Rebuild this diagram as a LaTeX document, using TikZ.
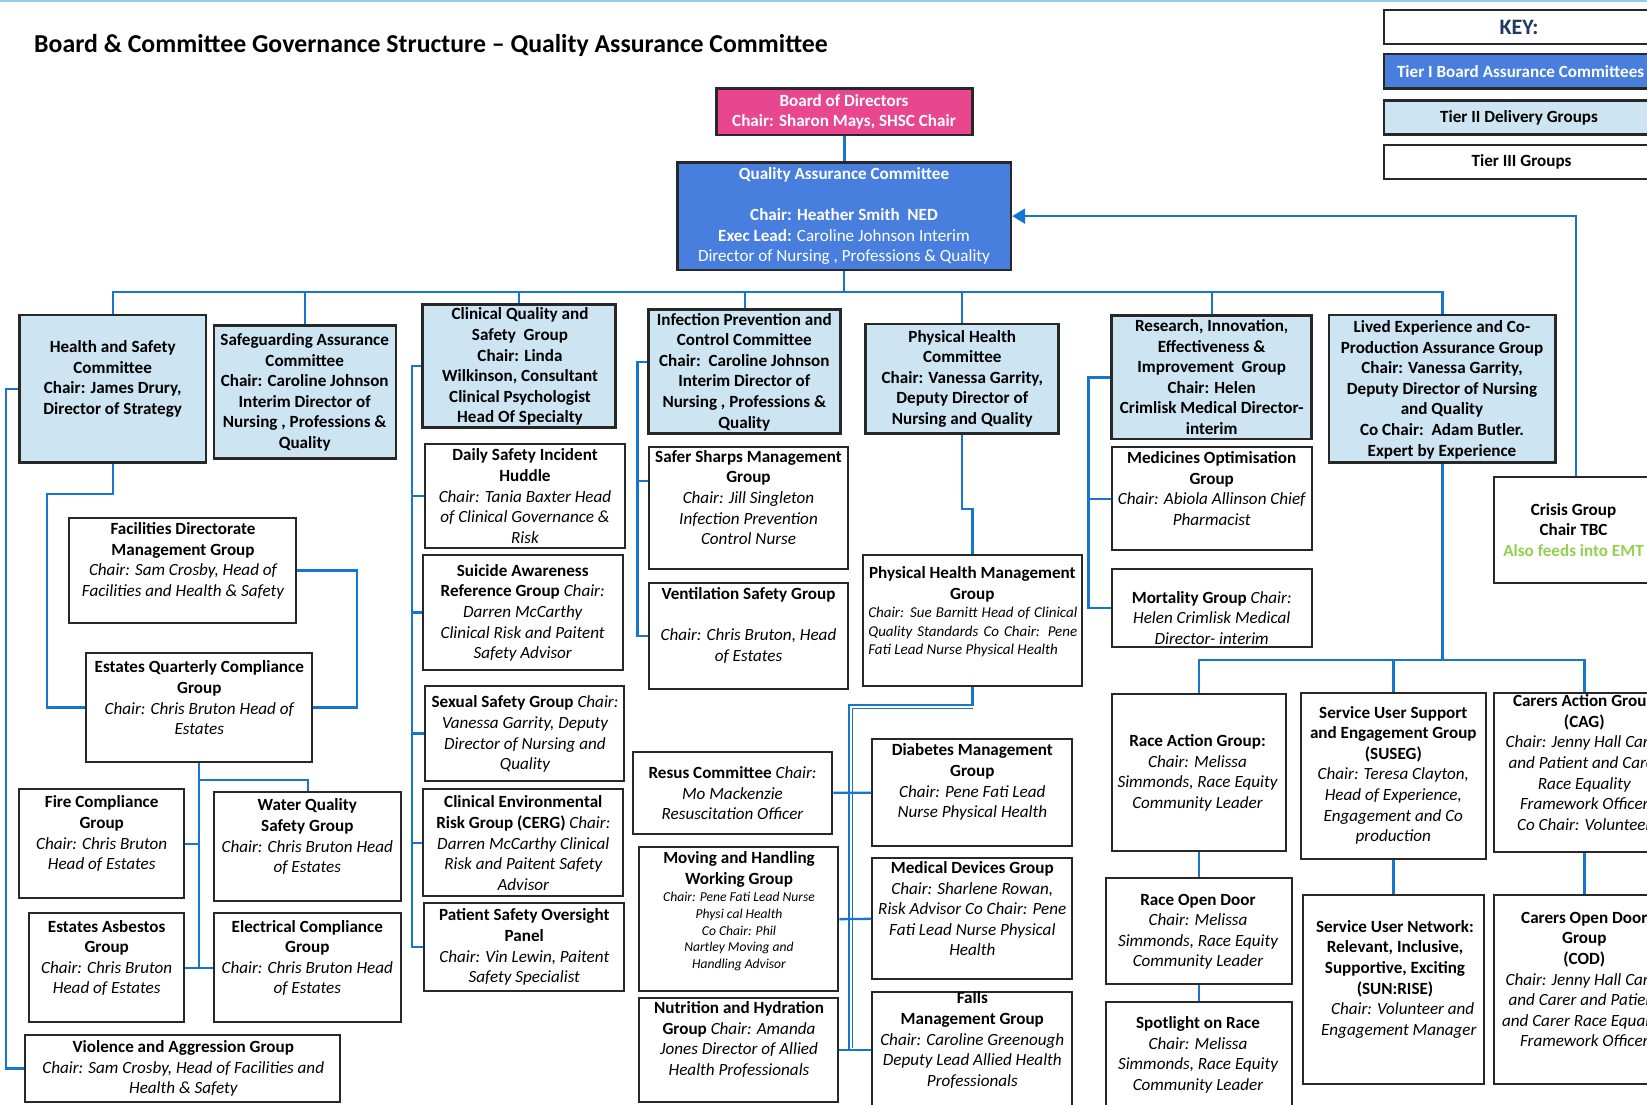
\documentclass[tikz,border=0pt]{standalone}
\usepackage{fontspec}
\setmainfont{Carlito}
\usetikzlibrary{arrows.meta,calc}
\definecolor{ltblue}{RGB}{205,228,242}
\definecolor{qblue}{RGB}{72,126,222}
\definecolor{pinkc}{RGB}{232,70,143}
\definecolor{bord}{RGB}{40,40,40}
\definecolor{connc}{RGB}{22,117,208}
\definecolor{emtgreen}{RGB}{146,208,80}
\definecolor{keyblue}{RGB}{31,56,100}
\definecolor{toplinec}{RGB}{150,200,235}
\newcommand\fsz{\fontsize{17.1}{20.6}\selectfont}
\newcommand\It[1]{{\mdseries\itshape #1}}
\newcommand\bx[6]{\node[#2, minimum width={(#5)-(#3)}, minimum height={(#6)-(#4)}] (#1) at ({((#3)+(#5))/2},{((#4)+(#6))/2}) {};}
\tikzset{
  wbox/.style={draw=bord, line width=2.2pt, fill=white, rectangle, inner sep=0pt},
  t2box/.style={wbox, fill=ltblue, line width=2.6pt},
  t1box/.style={wbox, fill=qblue, line width=2.6pt},
  pbox/.style={wbox, fill=pinkc, line width=2.6pt},
  tx/.style={align=center, inner sep=0pt, font={\fsz\bfseries}},
  conn/.style={draw=connc, line width=2.3pt},
}
\begin{document}
\begin{tikzpicture}[x=1pt,y=-1pt]
\useasboundingbox (0,0) rectangle (1647,1104);
\clip (0,0) rectangle (1647,1104);
\draw[toplinec, line width=2pt] (0,1) -- (1647,1);
\node[anchor=base west, inner sep=0pt, font={\fontsize{25.8}{30}\selectfont\bfseries}] (title) at (34,52.7) {Board \& Committee Governance Structure – Quality Assurance Committee};

% ---------- boxes ----------
\bx{board}{pbox}{716.4}{88.3}{972.3}{135}
\bx{qac}{t1box}{677.6}{162.3}{1010.9}{270}
\bx{key}{wbox}{1384}{10}{1654}{44}
\bx{k1}{t1box}{1384}{54}{1654}{88.3}
\bx{k2}{t2box}{1384}{100.7}{1654}{134.3}
\bx{k3}{wbox}{1384}{145}{1654}{179}
\bx{hs}{t2box}{19.3}{315}{206}{462.3}
\bx{sg}{t2box}{214}{325.7}{396}{458.3}
\bx{cq}{t2box}{422.7}{304.3}{615.7}{427.7}
\bx{ipc}{t2box}{648.7}{309.3}{840.7}{433.3}
\bx{ph}{t2box}{865.7}{324}{1058.3}{433.3}
\bx{res}{t2box}{1111.7}{315.7}{1311.7}{439}
\bx{le}{t2box}{1329}{315}{1555.7}{462.7}
\bx{crisis}{wbox}{1494}{477.3}{1658}{583.3}
\bx{fac}{wbox}{69.3}{517.7}{295.7}{623.3}
\bx{eqc}{wbox}{86}{653.3}{311.7}{761.7}
\bx{fire}{wbox}{19.3}{789.3}{184}{898.3}
\bx{wq}{wbox}{214.3}{791.7}{401}{900.7}
\bx{asb}{wbox}{29.3}{913.3}{184}{1022.3}
\bx{elec}{wbox}{214.3}{913.3}{401}{1022.3}
\bx{viol}{wbox}{25}{1035}{340}{1101.7}
\bx{daily}{wbox}{425}{444.3}{624.7}{547.7}
\bx{suic}{wbox}{423.3}{555}{622.7}{670}
\bx{sex}{wbox}{425}{685.7}{624.3}{781}
\bx{cerg}{wbox}{423.3}{789.3}{622.7}{896}
\bx{psop}{wbox}{424}{903.3}{623.7}{991}
\bx{sharps}{wbox}{648.7}{446.7}{848.3}{569.3}
\bx{vent}{wbox}{648.7}{582.7}{848.3}{689.3}
\bx{resus}{wbox}{632.7}{751.7}{832.3}{834}
\bx{mh}{wbox}{639}{847.3}{838.3}{991}
\bx{nut}{wbox}{639}{998.3}{838.3}{1101.7}
\bx{phmg}{wbox}{863.3}{555}{1081.7}{686}
\bx{diab}{wbox}{872.3}{739.3}{1072.3}{846}
\bx{md}{wbox}{872.3}{858.3}{1072.3}{979.3}
\bx{falls}{wbox}{872.3}{992.3}{1072.3}{1107.7}
\bx{meds}{wbox}{1111.7}{447.3}{1311.7}{550}
\bx{mort}{wbox}{1111.7}{569.3}{1311.7}{646.7}
\bx{race}{wbox}{1111.7}{694.3}{1285.7}{850.7}
\bx{rod}{wbox}{1105.7}{878.3}{1291.7}{984.3}
\bx{spot}{wbox}{1105.7}{1001.7}{1291.7}{1108}
\bx{suseg}{wbox}{1300.7}{692.7}{1486}{859}
\bx{sun}{wbox}{1302.7}{895}{1484}{1084.3}
\bx{cag}{wbox}{1494}{692.7}{1675}{852.3}
\bx{cod}{wbox}{1494}{895}{1675}{1084.3}

% ---------- texts ----------
\node[tx, text=white] (board-t) at (844,112) {Board of Directors\\Chair: Sharon Mays, SHSC Chair};
\node[tx, text=white] (qac-t) at (844,216) {Quality Assurance Committee\\[20.6pt]Chair: Heather Smith\ \ NED\\Exec Lead: {\mdseries Caroline Johnson Interim}\\{\mdseries Director of Nursing , Professions \& Quality}};
\node[tx, text=keyblue, font={\fontsize{22}{26}\selectfont\bfseries}] (key-t) at (1519,27) {KEY:};
\node[tx, text=white] (k1-t) at (1520.6,71.5) {Tier I Board Assurance Committees};
\node[tx] (k2-t) at (1519,117.5) {Tier II Delivery Groups};
\node[tx] (k3-t) at (1521.5,162) {Tier III Groups};

\node[tx] (hs-t) at (112.7,378.8) {Health and Safety\\Committee\\Chair: James Drury,\\Director of Strategy};
\node[tx] (sg-t) at (304.7,392.3) {Safeguarding Assurance\\Committee\\Chair: Caroline Johnson\\Interim Director of\\Nursing , Professions \&\\Quality};
\node[tx] (fac-t) at (183,560.8) {Facilities Directorate\\Management Group\\\It{Chair: Sam Crosby, Head of}\\\It{Facilities and Health \& Safety}};
\node[tx] (eqc-t) at (199.3,697.8) {Estates Quarterly Compliance\\Group\\\It{Chair: Chris Bruton Head of}\\\It{Estates}};
\node[tx] (fire-t) at (101.7,833.8) {Fire Compliance\\Group\\\It{Chair: Chris Bruton}\\\It{Head of Estates}};
\node[tx] (wq-t) at (307.3,836.7) {Water Quality\\Safety Group\\\It{Chair: Chris Bruton Head}\\\It{of Estates}};
\node[tx] (asb-t) at (106.7,958) {Estates Asbestos\\Group\\\It{Chair: Chris Bruton}\\\It{Head of Estates}};
\node[tx] (elec-t) at (307.3,958) {Electrical Compliance\\Group\\\It{Chair: Chris Bruton Head}\\\It{of Estates}};
\node[tx] (viol-t) at (183.3,1068.7) {Violence and Aggression Group\\\It{Chair: Sam Crosby, Head of Facilities and}\\\It{Health \& Safety}};

\node[tx] (cq-t) at (520,366.7) {Clinical Quality and\\Safety\ \ Group\\Chair: Linda\\Wilkinson, Consultant\\Clinical Psychologist\\Head Of Specialty};
\node[tx] (daily-t) at (525,496.2) {Daily Safety Incident\\Huddle\\\It{Chair: Tania Baxter Head}\\\It{of Clinical Governance \&}\\\It{Risk}};
\node[tx] (suic-t) at (522.7,612.8) {Suicide Awareness\\Reference Group \It{Chair:}\\\It{Darren McCarthy}\\\It{Clinical Risk and Paitent}\\\It{Safety Advisor}};
\node[tx] (sex-t) at (525,734.2) {Sexual Safety Group \It{Chair:}\\\It{Vanessa Garrity, Deputy}\\\It{Director of Nursing and}\\\It{Quality}};
\node[tx] (cerg-t) at (523.3,843.2) {Clinical Environmental\\Risk Group (CERG) \It{Chair:}\\\It{Darren McCarthy Clinical}\\\It{Risk and Paitent Safety}\\\It{Advisor}};
\node[tx] (psop-t) at (524.3,947.2) {Patient Safety Oversight\\Panel\\\It{Chair: Vin Lewin, Paitent}\\\It{Safety Specialist}};

\node[tx] (ipc-t) at (744.3,372) {Infection Prevention and\\Control Committee\\Chair:\ \ Caroline Johnson\\Interim Director of\\Nursing , Professions \&\\Quality};
\node[tx] (sharps-t) at (748.5,497.5) {Safer Sharps Management\\Group\\\It{Chair: Jill Singleton}\\\It{Infection Prevention}\\\It{Control Nurse}};
\node[tx] (vent-t) at (748.5,625.5) {Ventilation Safety Group\\[20.6pt]\It{Chair: Chris Bruton, Head}\\\It{of Estates}};
\node[tx] (resus-t) at (732.5,793.3) {Resus Committee \It{Chair:}\\\It{Mo Mackenzie}\\\It{Resuscitation Officer}};
\node[tx] (mh-h) at (739,869.2) {Moving and Handling\\Working Group};
\node[tx, font={\fontsize{13.6}{16.7}\selectfont\itshape}] (mh-i) at (739,931.7) {Chair: Pene Fati Lead Nurse\\Physi cal Health\\Co Chair: Phil\\Nartley Moving and\\Handling Advisor};
\node[tx] (nut-t) at (739,1039.5) {Nutrition and Hydration\\Group \It{Chair: Amanda}\\\It{Jones Director of Allied}\\\It{Health Professionals}};

\node[tx] (ph-t) at (962.3,378.7) {Physical Health\\Committee\\Chair: Vanessa Garrity,\\Deputy Director of\\Nursing and Quality};
\node[tx] (phmg-h) at (972.3,584.5) {Physical Health Management\\Group};
\node[inner sep=0pt] (phmg-i) at (972.8,632) {\parbox{209pt}{\fontsize{15}{18.7}\selectfont\itshape\makebox[209pt][s]{Chair: Sue Barnitt Head of Clinical}\\\makebox[209pt][s]{Quality Standards Co Chair: Pene}\\Fati Lead Nurse Physical Health}};
\node[tx] (diab-t) at (972.3,782.2) {Diabetes Management\\Group\\\It{Chair: Pene Fati Lead}\\\It{Nurse Physical Health}};
\node[tx] (md-t) at (972.3,908.7) {Medical Devices Group\\\It{Chair: Sharlene Rowan,}\\\It{Risk Advisor Co Chair: Pene}\\\It{Fati Lead Nurse Physical}\\\It{Health}};
\node[tx] (falls-t) at (972.3,1040) {Falls\\Management Group\\\It{Chair: Caroline Greenough}\\\It{Deputy Lead Allied Health}\\\It{Professionals}};

\node[tx] (res-t) at (1211.7,377) {Research, Innovation,\\Effectiveness \&\\Improvement\ \ Group\\Chair: Helen\\Crimlisk Medical Director-\\interim};
\node[tx] (meds-t) at (1211.7,488.5) {Medicines Optimisation\\Group\\\It{Chair: Abiola Allinson Chief}\\\It{Pharmacist}};
\node[tx] (mort-t) at (1211.7,618) {Mortality Group \It{Chair:}\\\It{Helen Crimlisk Medical}\\\It{Director- interim}};
\node[tx] (le-t) at (1442,389.7) {Lived Experience and Co-\\Production Assurance Group\\Chair: Vanessa Garrity,\\Deputy Director of Nursing\\and Quality\\Co Chair:\ \ Adam Butler.\\Expert by Experience};
\node[tx] (crisis-t) at (1573.5,530) {Crisis Group\\Chair TBC\\\textcolor{emtgreen}{Also feeds into EMT}};

\node[tx] (race-t) at (1197.5,772.8) {Race Action Group:\\\It{Chair: Melissa}\\\It{Simmonds, Race Equity}\\\It{Community Leader}};
\node[tx] (rod-t) at (1198,931.7) {Race Open Door\\\It{Chair: Melissa}\\\It{Simmonds, Race Equity}\\\It{Community Leader}};
\node[tx] (spot-t) at (1198,1054.7) {Spotlight on Race\\\It{Chair: Melissa}\\\It{Simmonds, Race Equity}\\\It{Community Leader}};
\node[tx] (suseg-t) at (1393.3,775.3) {Service User Support\\and Engagement Group\\(SUSEG)\\\It{Chair: Teresa Clayton,}\\\It{Head of Experience,}\\\It{Engagement and Co}\\\It{production}};
\node[tx] (sun-t) at (1395,979.3) {Service User Network:\\Relevant, Inclusive,\\Supportive, Exciting\\(SUN:RISE)\\\It{\ \ \ \ Chair: Volunteer and}\\\It{\ \ Engagement Manager}};
\node[tx] (cag-t) at (1584.3,762.5) {Carers Action Group\\(CAG)\\\It{Chair: Jenny Hall Carer}\\\It{and Patient and Carer}\\\It{Race Equality}\\\It{Framework Officer}\\\It{Co Chair: Volunteer}};
\node[tx] (cod-t) at (1584.3,979.5) {Carers Open Door\\Group\\(COD)\\\It{Chair: Jenny Hall Carer}\\\It{and Carer and Patient}\\\It{and Carer Race Equality}\\\It{Framework Officer}};

% ---------- connectors ----------
\coordinate (busY) at (0,291.7);
\coordinate (leY) at (0,660);
\coordinate (cqx) at (411.7,0);
\draw[conn] (board.south) -- (board.south |- qac.north);
\draw[conn] (qac.south) -- (qac.south |- busY);
\draw[conn] (hs.north) -- (hs.north |- busY) -- (le.north |- busY) -- (le.north);
\foreach \n in {sg,cq,ipc,ph,res} \draw[conn] (\n.north) -- (\n.north |- busY);
\draw[conn, -{Triangle[length=13pt,width=15pt]}] (crisis.north) |- (qac.east);

\draw[conn] (hs.west) -- ++(-12,0) |- (viol.west);
\draw[conn] (hs.south) |- (47,494.3) |- (eqc.west);
\draw[conn] (fac.east) -| (357.3,707.5) -- (eqc.east);
\draw[conn] (eqc.south) -- (eqc.south |- asb.east);
\draw[conn] (asb.east) -- (elec.west);
\draw[conn] (fire.east) -- (fire.east -| eqc.south);
\draw[conn] (198.85,780) -| (wq.north);

\draw[conn] (cq.west) -- (cq.west -| cqx) |- (psop.west);
\foreach \n in {daily,suic,sex,cerg} \draw[conn] (\n.west) -- (\n.west -| cqx);

\draw[conn] (ipc.west) ++(0,-9.6) -- ++(-10,0) |- (vent.west);
\draw[conn] (sharps.west) ++(0,-27) -- ++(-10,0);

\draw[conn] (ph.south) |- (972.5,509) -- (phmg.north);
\draw[conn] (phmg.south) |- (849,705) |- (falls.west);
\draw[connc, line width=1.4pt] (972.5,708.7) -- (852.6,708.7) -- (852.6,1048);
\draw[conn] (resus.east) -- (diab.west);
\draw[conn] (mh.east) -- (md.west);
\draw[conn] (nut.east) -- (falls.west);

\draw[conn] (res.west) -- ++(-22,0) |- (mort.west);
\draw[conn] (meds.west) -- ++(-22,0);

\draw[conn] (le.south) -- (le.south |- leY);
\draw[conn] (race.north) |- (cag.north |- leY) -- (cag.north);
\draw[conn] (suseg.north) -- (suseg.north |- leY);
\draw[conn] (race.south) -- (rod.north);
\draw[conn] (rod.south) -- (spot.north);
\draw[conn] (suseg.south) -- (sun.north);
\draw[conn] (cag.south) -- (cod.north);
\end{tikzpicture}
\end{document}
